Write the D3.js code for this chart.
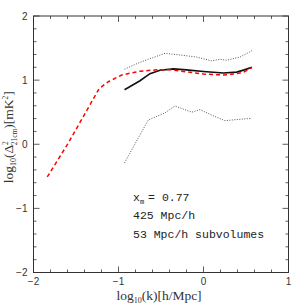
<!DOCTYPE html>
<html><head><meta charset="utf-8">
<script src="https://cdn.jsdelivr.net/npm/d3@7"></script>
<style>body{margin:0;background:#fff}svg{display:block}</style>
</head><body>
<script>
const redX = [-1.838,-1.59,-1.226,-1.12,-0.962,-0.747,-0.55,-0.394,-0.2,0.0,0.233,0.39,0.48,0.57];
const redY = [-0.51,0.02,0.872,0.975,1.08,1.14,1.16,1.16,1.13,1.095,1.08,1.1,1.13,1.195];
const blkX = [-0.929,-0.747,-0.63,-0.512,-0.355,-0.2,0.0,0.233,0.39,0.48,0.57];
const blkY = [0.85,0.99,1.1,1.155,1.175,1.16,1.135,1.11,1.125,1.16,1.2];
const upX = [-0.929,-0.747,-0.453,-0.276,-0.08,0.096,0.194,0.27,0.43,0.57];
const upY = [1.17,1.278,1.418,1.392,1.36,1.3,1.325,1.31,1.36,1.46];
const loX = [-0.929,-0.65,-0.453,-0.335,-0.139,-0.04,0.096,0.253,0.39,0.57];
const loY = [-0.29,0.378,0.49,0.596,0.5,0.54,0.455,0.367,0.385,0.405];
const xTicks = [-2,-1,0,1];
const yTicks = [-2,-1,0,1,2];
const notes = ["= 0.77","425 Mpc/h","53 Mpc/h subvolumes"];

const W=305,H=305, L=33.5, R=288.5, T=16, B=272.5;
const svg = d3.select("body").append("svg").attr("width",W).attr("height",H);
const x = d3.scaleLinear().domain([-2,1]).range([L,R]);
const y = d3.scaleLinear().domain([-2,2]).range([B,T]);
const fg="#333";

const minorX = d3.range(-2,1.0001,0.2), minorY = d3.range(-2,2.0001,0.2);
const g = svg.append("g");
function tick(x1,y1,x2,y2){g.append("line").attr("x1",x1).attr("y1",y1).attr("x2",x2).attr("y2",y2).attr("stroke",fg).attr("stroke-width",0.8);}
minorX.forEach(v=>{const major=Math.abs(v-Math.round(v))<1e-6; const l=major?6:3; const px=x(v); tick(px,B,px,B-l); tick(px,T,px,T+l);});
minorY.forEach(v=>{const major=Math.abs(v-Math.round(v))<1e-6; const l=major?6:3; const py=y(v); tick(L,py,L+l,py); tick(R,py,R-l,py);});
g.append("rect").attr("x",L).attr("y",T).attr("width",R-L).attr("height",B-T).attr("fill","none").attr("stroke",fg).attr("stroke-width",1);

const fmt = v => v<0 ? "\u2212"+Math.abs(v) : String(v);
xTicks.forEach(v=>svg.append("text").attr("x",x(v)).attr("y",B+12.5).attr("text-anchor","middle")
  .attr("font-family","Liberation Sans").attr("font-size",10).attr("fill",fg).text(fmt(v)));
yTicks.forEach(v=>svg.append("text").attr("x",L-6).attr("y",y(v)+3.5).attr("text-anchor","end")
  .attr("font-family","Liberation Sans").attr("font-size",10).attr("fill",fg).text(fmt(v)));

const xl = svg.append("text").attr("x",(L+R)/2-2).attr("y",299.5).attr("text-anchor","middle")
  .attr("font-family","Liberation Serif").attr("font-size",13.5).attr("fill",fg);
xl.append("tspan").text("log");
xl.append("tspan").attr("font-size",8).attr("dy",3).text("10");
xl.append("tspan").attr("dy",-3).text("(k)[h/Mpc]");

const yl = svg.append("text").attr("transform",`translate(13,${(T+B)/2-7}) rotate(-90)`).attr("text-anchor","middle")
  .attr("font-family","Liberation Serif").attr("font-size",13.5).attr("fill",fg);
yl.append("tspan").text("log");
yl.append("tspan").attr("font-size",8).attr("dy",3).text("10");
yl.append("tspan").attr("dy",-3).text("(\u0394");
yl.append("tspan").attr("font-size",7.5).attr("dy",-5.5).text("2");
yl.append("tspan").attr("font-size",7.5).attr("dx",-4.2).attr("dy",9).text("21cm");
yl.append("tspan").attr("dy",-3.5).text(")[mK");
yl.append("tspan").attr("font-size",7.5).attr("dy",-5.5).text("2");
yl.append("tspan").attr("dy",5.5).text("]");

const line = d3.line().x(d=>x(d[0])).y(d=>y(d[1]));
const zip=(a,b)=>a.map((v,i)=>[v,b[i]]);
const pg = svg.append("g");
pg.append("path").attr("d",line(zip(upX,upY))).attr("fill","none").attr("stroke","#555").attr("stroke-width",1).attr("stroke-dasharray","1,1.5");
pg.append("path").attr("d",line(zip(loX,loY))).attr("fill","none").attr("stroke","#555").attr("stroke-width",1).attr("stroke-dasharray","1,1.5");
pg.append("path").attr("d",line(zip(blkX,blkY))).attr("fill","none").attr("stroke","#111").attr("stroke-width",1.6);
pg.append("path").attr("d",line(zip(redX,redY))).attr("fill","none").attr("stroke","#f00").attr("stroke-width",1.5).attr("stroke-dasharray","4,3");

const nf="Liberation Mono", ns=11.5;
const t1 = svg.append("text").attr("x",133).attr("y",201).attr("font-family",nf).attr("font-size",ns).attr("fill","#222");
t1.append("tspan").text("x");
t1.append("tspan").attr("font-size",7).attr("dy",3).text("m");
t1.append("tspan").attr("dy",-3).attr("dx",4).text(notes[0]);
svg.append("text").attr("x",133).attr("y",219).attr("font-family",nf).attr("font-size",ns).attr("fill","#222").text(notes[1]);
svg.append("text").attr("x",133).attr("y",238).attr("font-family",nf).attr("font-size",ns).attr("fill","#222").text(notes[2]);
</script>
</body></html>
